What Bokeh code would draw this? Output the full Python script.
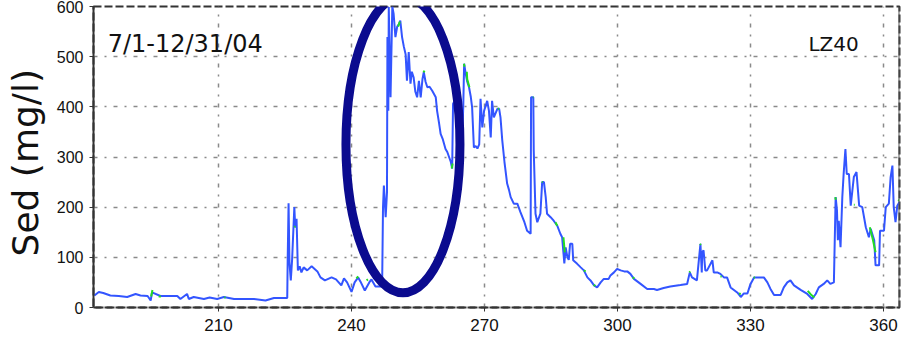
from bokeh.plotting import figure
from bokeh.models import Range1d, FixedTicker, Label, Span
from bokeh.embed import file_html
from bokeh.resources import INLINE
import numpy as np

# ---- data (day of year, sediment mg/l) ----
days = [182.0, 183.0, 184.0, 185.6, 187.5, 189.4, 191.3, 192.4, 194.0, 194.7, 195.0, 196.9, 198.5,
        200.7, 201.4, 202.9, 203.3, 204.4, 206.7, 208.0, 209.7, 211.2, 213.5, 216.0, 218.0, 220.6,
        222.5, 225.5, 225.6, 225.8, 226.0, 226.3, 226.6, 227.1, 227.3, 227.6, 227.9, 228.3, 228.7,
        229.2, 230.0, 231.0, 232.3, 233.0, 234.0, 235.5, 236.5, 237.7, 238.3, 239.0, 240.0, 240.7,
        241.5, 242.0, 243.0, 244.0, 244.5, 245.4, 246.5, 246.9, 247.1, 247.3, 247.7, 248.0, 248.1,
        248.3, 248.4, 248.8, 249.2, 249.5, 249.9, 250.3, 250.7, 251.0, 251.4, 251.8, 252.2, 252.5,
        252.9, 253.3, 253.6, 254.0, 254.4, 254.8, 255.2, 255.6, 256.0, 256.3, 256.7, 257.1, 257.6,
        258.2, 259.0, 259.3, 259.7, 260.1, 260.6, 261.2, 261.6, 262.0, 262.4, 262.7, 262.9, 263.3,
        263.8, 264.5, 265.0, 265.2, 265.4, 265.7, 266.1, 266.5, 266.9, 267.2, 267.6, 268.0, 268.4,
        268.8, 269.1, 269.5, 269.9, 270.6, 271.0, 271.4, 271.7, 272.1, 272.9, 273.3, 273.6, 274.0,
        274.5, 275.1, 275.5, 275.9, 276.6, 277.4, 278.1, 279.0, 279.6, 280.4, 280.5, 281.0, 281.1,
        281.5, 281.9, 282.6, 283.0, 283.4, 283.8, 284.1, 284.9, 285.6, 286.4, 287.1, 287.5, 288.0,
        288.3, 288.7, 289.0, 289.3, 289.8, 290.0, 290.9, 291.7, 292.4, 293.2, 293.9, 294.7, 295.4,
        296.2, 296.9, 298.0, 298.4, 299.2, 299.9, 300.7, 301.5, 302.2, 302.9, 303.7, 305.2, 306.7,
        308.2, 308.9, 310.4, 311.9, 314.2, 315.7, 316.3, 316.8, 317.9, 318.7, 319.0, 319.1, 319.4,
        319.8, 320.2, 321.4, 321.7, 322.5, 323.2, 324.0, 324.7, 325.5, 327.0, 327.8, 328.5, 329.3,
        330.0, 330.8, 333.0, 333.8, 334.5, 335.3, 336.8, 337.5, 338.3, 339.0, 339.8, 341.3, 342.8,
        343.9, 344.7, 345.4, 346.5, 347.3, 348.0, 348.8, 349.2, 349.5, 349.7, 349.9, 350.3, 350.7,
        351.0, 351.4, 351.7, 352.2, 352.6, 353.3, 353.9, 354.5, 355.2, 356.0, 356.7, 357.1, 357.9,
        358.2, 359.0, 359.2, 360.1, 360.5, 361.2, 361.6, 362.0, 362.3, 362.7, 363.1, 363.6]
sed = [24, 31, 29, 24, 23, 21, 27, 24, 23, 14, 30, 23, 23,
       23, 17, 27, 17, 21, 17, 20, 17, 21, 17, 17, 17, 14,
       19, 19, 94, 208, 90, 54, 96, 200, 160, 177, 74, 82, 70,
       80, 74, 82, 72, 60, 54, 60, 56, 44, 58, 50, 31, 50,
       60, 52, 34, 50, 56, 42, 42, 42, 200, 243, 180, 230, 539,
       392, 599, 419, 600, 585, 539, 560, 565, 572, 539, 520, 505, 452,
       509, 446, 470, 459, 430, 419, 452, 419, 455, 469, 450, 439, 440,
       432, 419, 392, 370, 346, 335, 316, 310, 300, 290, 277, 406, 412,
       400, 380, 346, 400, 486, 469, 450, 439, 420, 399, 319, 322, 317,
       325, 416, 359, 392, 412, 392, 339, 412, 379, 396, 396, 379, 333,
       290, 247, 235, 220, 207, 207, 190, 170, 153, 147, 419, 419, 313,
       187, 170, 187, 250, 250, 220, 187, 180, 173, 163, 147, 140, 88,
       120, 100, 95, 127, 127, 94, 87, 80, 74, 60, 54, 44, 40,
       50, 57, 57, 64, 70, 77, 74, 72, 72, 67, 57, 47, 37,
       37, 35, 39, 42, 45, 47, 70, 60, 54, 127, 70, 110, 114,
       74, 74, 94, 70, 70, 67, 60, 60, 40, 30, 21, 28, 28,
       47, 60, 60, 50, 37, 25, 25, 40, 50, 54, 44, 35, 27,
       17, 27, 40, 47, 54, 47, 50, 220, 193, 134, 173, 120, 220,
       266, 316, 266, 266, 203, 260, 270, 203, 200, 160, 140, 157, 134,
       84, 84, 153, 153, 200, 207, 260, 283, 200, 170, 203, 210]

# secondary (green) record, visible only in short pieces; NaN = gap
green_days = [194.8, 195.1, np.nan, 196.5, 197.0, np.nan, 211.3, 211.6, np.nan, 227.1, 227.3, np.nan,
              241.1, 241.5, np.nan, 243.4, 243.7, np.nan, 250.5, 250.9, np.nan, 256.2, 256.5, np.nan,
              262.6, 262.8, np.nan, 265.35, 265.5, np.nan, 266.0, 266.1, 266.6, np.nan, 273.0, 273.3, np.nan,
              280.9, 281.05, np.nan, 282.9, 283.1, np.nan, 286.0, 286.4, np.nan, 287.8, 288.1, np.nan,
              292.4, 292.8, np.nan, 294.6, 295.0, np.nan, 303.4, 303.8, np.nan, 316.2, 316.4, np.nan,
              318.6, 318.8, np.nan, 323.2, 323.5, np.nan, 327.4, 327.8, np.nan, 330.7, 331.0, np.nan,
              342.9, 343.6, 344.4, np.nan, 349.1, 349.25, np.nan, 353.3, 353.5, np.nan,
              356.9, 357.6, 358.2, np.nan, 363.3, 363.6]
green_vals = [22, 35, np.nan, 22, 22, np.nan, 20, 20, np.nan, 160, 162, np.nan,
              58, 62, np.nan, 54, 56, np.nan, 560, 570, np.nan, 469, 472, np.nan,
              277, 287, np.nan, 486, 480, np.nan, 470, 455, 439, np.nan, 396, 396, np.nan,
              419, 419, np.nan, 250, 250, np.nan, 170, 163, np.nan, 140, 110, np.nan,
              74, 72, np.nan, 45, 43, np.nan, 60, 58, np.nan, 70, 72, np.nan,
              127, 125, np.nan, 62, 62, np.nan, 28, 27, np.nan, 60, 60, np.nan,
              33, 26, 20, np.nan, 220, 215, np.nan, 205, 205, np.nan,
              160, 135, 110, np.nan, 215, 213]

x_ticks = [210, 240, 270, 300, 330, 360]
y_ticks = [0, 100, 200, 300, 400, 500, 600]
period_text = "7/1-12/31/04"
station_text = "LZ40"
y_title = "Sed  (mg/l)"

# highlighted event (ellipse) centre
event_day, event_sed = 251.6, 325

X0, X1 = 181.8, 363.6

p = figure(width=903, height=343, x_range=Range1d(X0, X1), y_range=Range1d(0, 600),
           output_backend="svg", toolbar_location=None,
           min_border_left=93, min_border_right=4, min_border_top=6, min_border_bottom=36)
p.background_fill_color = "white"
p.border_fill_color = "white"
p.outline_line_color = "#333333"
p.outline_line_width = 2
p.outline_line_dash = "8 3"

p.xaxis.ticker = FixedTicker(ticks=x_ticks)
p.yaxis.ticker = FixedTicker(ticks=y_ticks)
for ax in (p.xaxis, p.yaxis):
    ax.major_label_text_font = "Liberation Sans"
    ax.major_label_text_color = "#111111"
    ax.minor_tick_line_color = None
    ax.major_tick_in = 0
    ax.major_tick_out = 4
    ax.major_tick_line_color = "#333333"
    ax.axis_line_color = "#333333"
    ax.axis_line_width = 2
p.xaxis.major_label_text_font_size = "17px"
p.yaxis.major_label_text_font_size = "16px"
p.xaxis.major_label_standoff = 7
p.yaxis.major_label_standoff = 6
p.xaxis.axis_line_dash = "8 3"

p.yaxis.axis_label = y_title
p.yaxis.axis_label_text_font = "DejaVu Sans"
p.yaxis.axis_label_text_font_size = "36px"
p.yaxis.axis_label_text_font_style = "normal"
p.yaxis.axis_label_text_color = "#111111"
p.yaxis.axis_label_standoff = 8

for g in (p.xgrid, p.ygrid):
    g.grid_line_color = "#8a8a8a"
    g.grid_line_width = 1.5
    g.grid_line_dash = "4 7 2 7"
p.xgrid.ticker = FixedTicker(ticks=x_ticks)
p.ygrid.ticker = FixedTicker(ticks=y_ticks[1:-1])

p.line(days, sed, line_color="#3355ff", line_width=2)
p.line(green_days, green_vals, line_color="#22dd22", line_width=2)

p.add_layout(Span(location=X1, dimension="height", line_color="#555555", line_width=2))

p.ellipse(x=[event_day], y=[event_sed], width=[114], height=[297],
          width_units="screen", height_units="screen",
          fill_color=None, line_color="#0b0b8f", line_width=9)

p.add_layout(Label(x=185.0, y=526, text=period_text, text_font="DejaVu Sans",
                   text_font_size="24px", text_color="#111111", text_baseline="alphabetic"))
p.add_layout(Label(x=354.4, y=526, text=station_text, text_font="DejaVu Sans",
                   text_font_size="20px", text_color="#111111", text_baseline="alphabetic",
                   text_align="right"))

open("out.html", "w").write(file_html(p, INLINE))
